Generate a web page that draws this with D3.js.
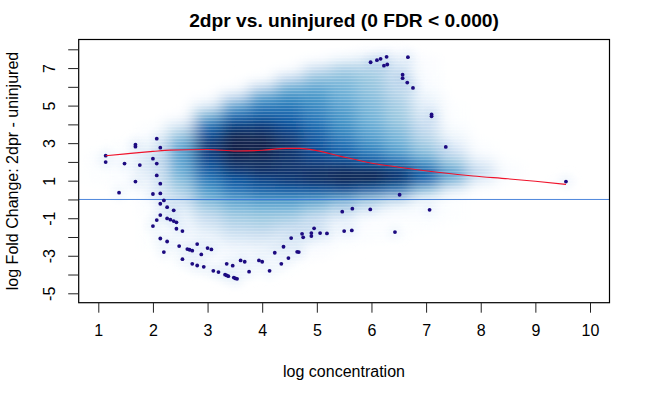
<!DOCTYPE html>
<html>
<head>
<meta charset="utf-8">
<script src="https://cdn.jsdelivr.net/npm/d3@7"></script>
<style>
  html, body { margin: 0; padding: 0; background: #fff; }
  text { font-family: "Liberation Sans", Arial, sans-serif; fill: #000; }
</style>
</head>
<body>
<div id="chart"></div>
<script>
// Labels
var titleText = '2dpr vs. uninjured (0 FDR < 0.000)';
var xLabel = 'log concentration';
var yLabel = 'log Fold Change: 2dpr - uninjured';

// Ticks
var xTicks = [1, 2, 3, 4, 5, 6, 7, 8, 9, 10];
var yTicks = [-5, -4, -3, -2, -1, 0, 1, 2, 3, 4, 5, 6, 7, 8];
var yTickLabels = [-5, -3, -1, 1, 3, 5, 7];

// Colour ramp of the density cloud, lightest to darkest
var rampColors = ['#ffffff', '#f7fbff', '#deebf7', '#c6dbef', '#9ecae1', '#6baed6', '#4292c6', '#2171b5', '#08519c', '#08306b', '#0a1f45'];

// Density, as a level on the ramp (rows top to bottom)
var densityX = [1, 1.5, 2, 2.5, 3, 3.5, 4, 4.5, 5, 5.5, 6, 6.5, 7, 7.5, 8, 8.5, 9, 9.5, 10];
var densityY = [8, 7.5, 7, 6.5, 6, 5.5, 5, 4.5, 4, 3.5, 3, 2.5, 2, 1.5, 1, 0.5, 0, -0.5, -1, -1.5, -2, -2.5, -3, -3.5, -4, -4.5];
var densityLevels = [
    [0, 0, 0, 0, 0, 0, 0, 0, 0, 0, 0.4, 0.4],
    [0, 0, 0, 0, 0, 0, 0, 0, 0.5, 1.4, 2, 1.6, 0.4],
    [0, 0, 0, 0, 0, 0, 0, 0.5, 2.6, 3.6, 3.4, 2.4, 0.5],
    [0, 0, 0, 0, 0, 0, 0.5, 2.8, 4.2, 4.4, 4, 3, 0.8],
    [0, 0, 0, 0, 0, 0.5, 3, 4.8, 5.2, 4.8, 4.2, 3.2, 1],
    [0, 0, 0, 0, 0.4, 2.8, 5.2, 6, 5.8, 5, 4.4, 3.4, 1.4],
    [0, 0, 0, 0, 2, 5.2, 6.6, 6.8, 6.2, 5.4, 4.6, 3.8, 1.8, 0.2],
    [0, 0, 0, 0.4, 4.6, 7, 7.6, 7.4, 6.6, 5.8, 4.8, 4, 2.2, 0.3],
    [0, 0, 0.2, 2, 6.6, 8.4, 8.6, 8, 7, 6, 5, 4.2, 2.8, 0.6],
    [0, 0, 0.7, 3.8, 8, 9.6, 9.4, 8.6, 7.6, 6.4, 5.4, 4.6, 3.2, 1.2],
    [0, 0.2, 1.4, 5, 8.8, 10, 10, 9, 8, 7, 6, 5, 3.8, 1.8, 0.2],
    [0.3, 0.6, 2, 5.4, 8.6, 10, 9.8, 9, 8.2, 7.4, 6.6, 5.6, 4.4, 2.8, 0.8],
    [0.5, 0.8, 2.2, 5.4, 8.2, 9.4, 9.4, 9, 8.6, 8.4, 7.8, 7, 5.8, 4, 1.8, 0.2],
    [0.3, 0.6, 2, 5, 7.6, 8.8, 9.2, 9, 9.2, 9.4, 9.4, 8.8, 7.4, 5.4, 3, 0.8],
    [0.2, 0.5, 1.7, 4.4, 6.6, 7.8, 8.4, 8.8, 9.2, 9.6, 9.6, 8.8, 7.2, 4.6, 1.8, 0.2, 0, 0.4],
    [0, 0.3, 1.3, 3.8, 5.8, 7, 7.6, 7.8, 8, 8.2, 7.6, 6.6, 4.4, 2, 0.3],
    [0, 0, 0.8, 3, 4.8, 5.6, 6, 6, 5.8, 5.2, 4.2, 3.2, 1.4, 0.3],
    [0, 0, 0.5, 2, 3.8, 4.6, 4.8, 4.8, 4.2, 3.2, 2, 1.2, 0.8, 0.3],
    [0, 0, 0.3, 1.4, 3, 3.8, 4, 3.8, 3, 1.8, 0.8, 0.5, 0.5, 0.2],
    [0, 0, 0.2, 1, 2.2, 3.2, 3.4, 3, 2.2, 1, 0.4, 0.3, 0.2],
    [0, 0, 0.2, 0.7, 1.5, 2.4, 2.6, 2.2, 1.5, 0.7, 0.5, 0.3],
    [0, 0, 0.2, 0.5, 1, 1.5, 1.7, 1.5, 0.9, 0.3],
    [0, 0, 0, 0.3, 0.6, 0.9, 1, 0.7, 0.4],
    [0, 0, 0, 0.2, 0.4, 0.6, 0.5, 0.2],
    [0, 0, 0, 0, 0.2, 0.3, 0.3, 0.1],
    [0]
];

// Outlying genes
var pointX = [1.135, 1.135, 1.38, 1.48, 1.68, 1.68, 1.68, 1.76, 2.0, 2.0, 2.07, 2.07, 2.07, 2.135, 2.135, 2.135, 2.135, 2.2, 2.26, 2.38,
    2.135, 2.07, 2.0, 2.26, 2.32, 2.38, 2.43, 2.43, 2.54, 2.135, 2.26, 2.2, 2.48, 2.54, 2.63, 2.67, 2.72, 2.81, 2.885, 3.0,
    3.07, 2.72, 2.81, 2.93, 3.105, 3.2, 3.32, 3.35, 3.38, 3.35, 3.46, 3.48, 3.51, 3.54, 3.605, 3.68, 3.76, 3.94, 4.0, 4.135,
    4.23, 4.35, 4.39, 4.48, 4.53, 4.64, 4.67, 4.73, 4.75, 4.9, 4.9, 4.95, 5.06, 5.185, 5.465, 5.65, 5.978, 6.515, 7.064, 5.5,
    5.64, 6.43, 9.56, 5.984, 6.1, 6.167, 6.277, 6.228, 6.289, 6.667, 6.57, 6.57, 6.655, 6.76, 7.1, 7.1, 7.36];
var pointY = [2.33, 1.99, 0.36, 1.91, 2.92, 2.81, 0.95, 1.83, 2.17, 0.29, 3.24, 1.91, 1.28, 2.76, 0.84, 0.32, -0.23, -0.05, -0.41, -0.58,
    -0.83, -1.1, -1.42, -1.01, -1.08, -1.15, -1.22, -1.56, -1.685, -2.08, -2.24, -2.805, -2.485, -3.18, -2.645, -2.68, -2.73, -2.38, -2.93, -2.59,
    -2.66, -3.43, -3.52, -3.59, -3.8, -3.87, -4.01, -4.05, -4.085, -3.43, -3.53, -4.16, -4.21, -4.23, -3.25, -3.32, -3.85, -3.25, -3.32, -3.8,
    -2.84, -3.43, -2.52, -3.125, -2.06, -2.79, -2.805, -1.83, -2.02, -1.79, -1.95, -1.54, -1.79, -1.81, -0.65, -0.49, -0.53, 0.25, -0.55, -1.685,
    -1.65, -1.74, 0.95, 7.31, 7.42, 7.49, 7.6, 7.13, 7.19, 7.58, 6.65, 6.46, 6.225, 5.94, 4.53, 4.43, 2.8];

// Red trend line
var trendX = [1.135, 1.5, 2, 2.31, 3, 3.53, 4, 4.45, 4.69, 5, 5.42, 6.03, 6.5, 7.25, 7.86, 8.5, 9, 9.56];
var trendY = [2.33, 2.43, 2.56, 2.63, 2.66, 2.58, 2.62, 2.72, 2.72, 2.6, 2.31, 1.92, 1.72, 1.44, 1.25, 1.1, 0.97, 0.8];

var svgWidth = 650;
var svgHeight = 401;
var box = { left: 78.7, right: 609.5, top: 39.5, bottom: 302.7 };
var fontStack = '"Liberation Sans", Arial, sans-serif';

var svg = d3.select('#chart')
    .append('svg')
    .attr('width', svgWidth)
    .attr('height', svgHeight)
    .style('display', 'block');

// Scales
var xScale = d3.scaleLinear().domain([1, 10]).range([98.3, 590]);
var yScale = d3.scaleLinear().domain([-5, 8]).range([293.3, 49.3]);
var levelColor = d3.scaleLinear().domain(d3.range(rampColors.length)).range(rampColors).clamp(true);

var defs = svg.append('defs');

defs.append('clipPath').attr('id', 'plotClip')
    .append('rect')
    .attr('x', box.left)
    .attr('y', box.top)
    .attr('width', box.right - box.left)
    .attr('height', box.bottom - box.top);

// Smooths the coarse density cells
var blur = defs.append('filter').attr('id', 'soft')
    .attr('filterUnits', 'userSpaceOnUse')
    .attr('x', 0).attr('y', 0).attr('width', svgWidth).attr('height', svgHeight);
blur.append('feGaussianBlur').attr('stdDeviation', '8 4');

var haloBlur = defs.append('filter').attr('id', 'halo')
    .attr('filterUnits', 'userSpaceOnUse')
    .attr('x', 0).attr('y', 0).attr('width', svgWidth).attr('height', svgHeight);
haloBlur.append('feGaussianBlur').attr('stdDeviation', '4');

// Horizontal banding seen in the cloud; white lines only show over the blue
var bands = defs.append('pattern').attr('id', 'bands')
    .attr('patternUnits', 'userSpaceOnUse')
    .attr('width', 10).attr('height', 3);
bands.append('rect')
    .attr('width', 10).attr('height', 1)
    .attr('fill', '#fff').attr('fill-opacity', 0.2);

var plot = svg.append('g').attr('clip-path', 'url(#plotClip)');

// Density cells
var cellWidth = Math.abs(xScale(densityX[1]) - xScale(densityX[0]));
var cellHeight = Math.abs(yScale(densityY[1]) - yScale(densityY[0]));
var cells = [];
densityLevels.forEach(function (row, r) {
    row.forEach(function (level, c) {
        if (level > 0) {
            cells.push({ x: densityX[c], y: densityY[r], level: level });
        }
    });
});

plot.append('g').attr('filter', 'url(#soft)')
    .selectAll('rect')
    .data(cells)
    .enter()
    .append('rect')
    .attr('x', d => xScale(d.x) - cellWidth / 2)
    .attr('y', d => yScale(d.y) - cellHeight / 2)
    .attr('width', cellWidth)
    .attr('height', cellHeight)
    .attr('fill', d => levelColor(d.level));

// Faint halos round the isolated points
plot.append('g').attr('filter', 'url(#halo)').style('mix-blend-mode', 'multiply')
    .selectAll('circle')
    .data(pointX)
    .enter()
    .append('circle')
    .attr('cx', d => xScale(d))
    .attr('cy', (d, i) => yScale(pointY[i]))
    .attr('r', 7)
    .attr('fill', '#e6f0f9')
    .attr('fill-opacity', 0.5);

plot.append('rect')
    .attr('x', box.left)
    .attr('y', box.top)
    .attr('width', box.right - box.left)
    .attr('height', box.bottom - box.top)
    .attr('fill', 'url(#bands)');

// Zero line
plot.append('line')
    .attr('x1', box.left)
    .attr('x2', box.right)
    .attr('y1', yScale(0))
    .attr('y2', yScale(0))
    .attr('stroke', '#3a78d8')
    .attr('stroke-width', 0.9);

// Points
plot.append('g')
    .selectAll('circle')
    .data(pointX)
    .enter()
    .append('circle')
    .attr('cx', d => xScale(d))
    .attr('cy', (d, i) => yScale(pointY[i]))
    .attr('r', 1.9)
    .attr('fill', '#1c0a80');

// Trend line
var trendLine = d3.line()
    .x(d => xScale(d))
    .y((d, i) => yScale(trendY[i]))
    .curve(d3.curveMonotoneX);

plot.append('path')
    .attr('d', trendLine(trendX))
    .attr('fill', 'none')
    .attr('stroke', '#f0142c')
    .attr('stroke-width', 1.1);

// Plot frame
svg.append('rect')
    .attr('x', box.left)
    .attr('y', box.top)
    .attr('width', box.right - box.left)
    .attr('height', box.bottom - box.top)
    .attr('fill', 'none')
    .attr('stroke', '#000')
    .attr('stroke-width', 1.2);

// Axes
var xAxis = d3.axisBottom(xScale).tickValues(xTicks).tickSize(10).tickPadding(12).tickFormat(d3.format('d'));
var yAxis = d3.axisLeft(yScale).tickValues(yTicks).tickSize(10.5)
    .tickFormat(d => yTickLabels.indexOf(d) >= 0 ? d : '');

var xGroup = svg.append('g')
    .attr('transform', `translate(0, ${box.bottom})`)
    .call(xAxis);
var yGroup = svg.append('g')
    .attr('transform', `translate(${box.left}, 0)`)
    .call(yAxis);

xGroup.select('.domain').remove();
yGroup.select('.domain').remove();
xGroup.selectAll('line').attr('stroke', '#222').attr('stroke-width', 1);
yGroup.selectAll('line').attr('stroke', '#222').attr('stroke-width', 1);
xGroup.selectAll('text').style('font-size', '16px').style('font-family', fontStack);
yGroup.selectAll('text')
    .style('font-size', '16px')
    .style('font-family', fontStack)
    .attr('text-anchor', 'middle')
    .attr('x', 0)
    .attr('y', 0)
    .attr('dy', 0)
    .attr('transform', 'translate(-23.5, 0) rotate(-90)');

// Titles
svg.append('text')
    .attr('x', 344)
    .attr('y', 27)
    .attr('text-anchor', 'middle')
    .style('font-size', '19.2px')
    .style('font-weight', 'bold')
    .text(titleText);

svg.append('text')
    .attr('x', 344)
    .attr('y', 377)
    .attr('text-anchor', 'middle')
    .style('font-size', '16px')
    .text(xLabel);

svg.append('text')
    .attr('transform', 'translate(18, 171) rotate(-90)')
    .attr('text-anchor', 'middle')
    .style('font-size', '16px')
    .text(yLabel);
</script>
</body>
</html>
